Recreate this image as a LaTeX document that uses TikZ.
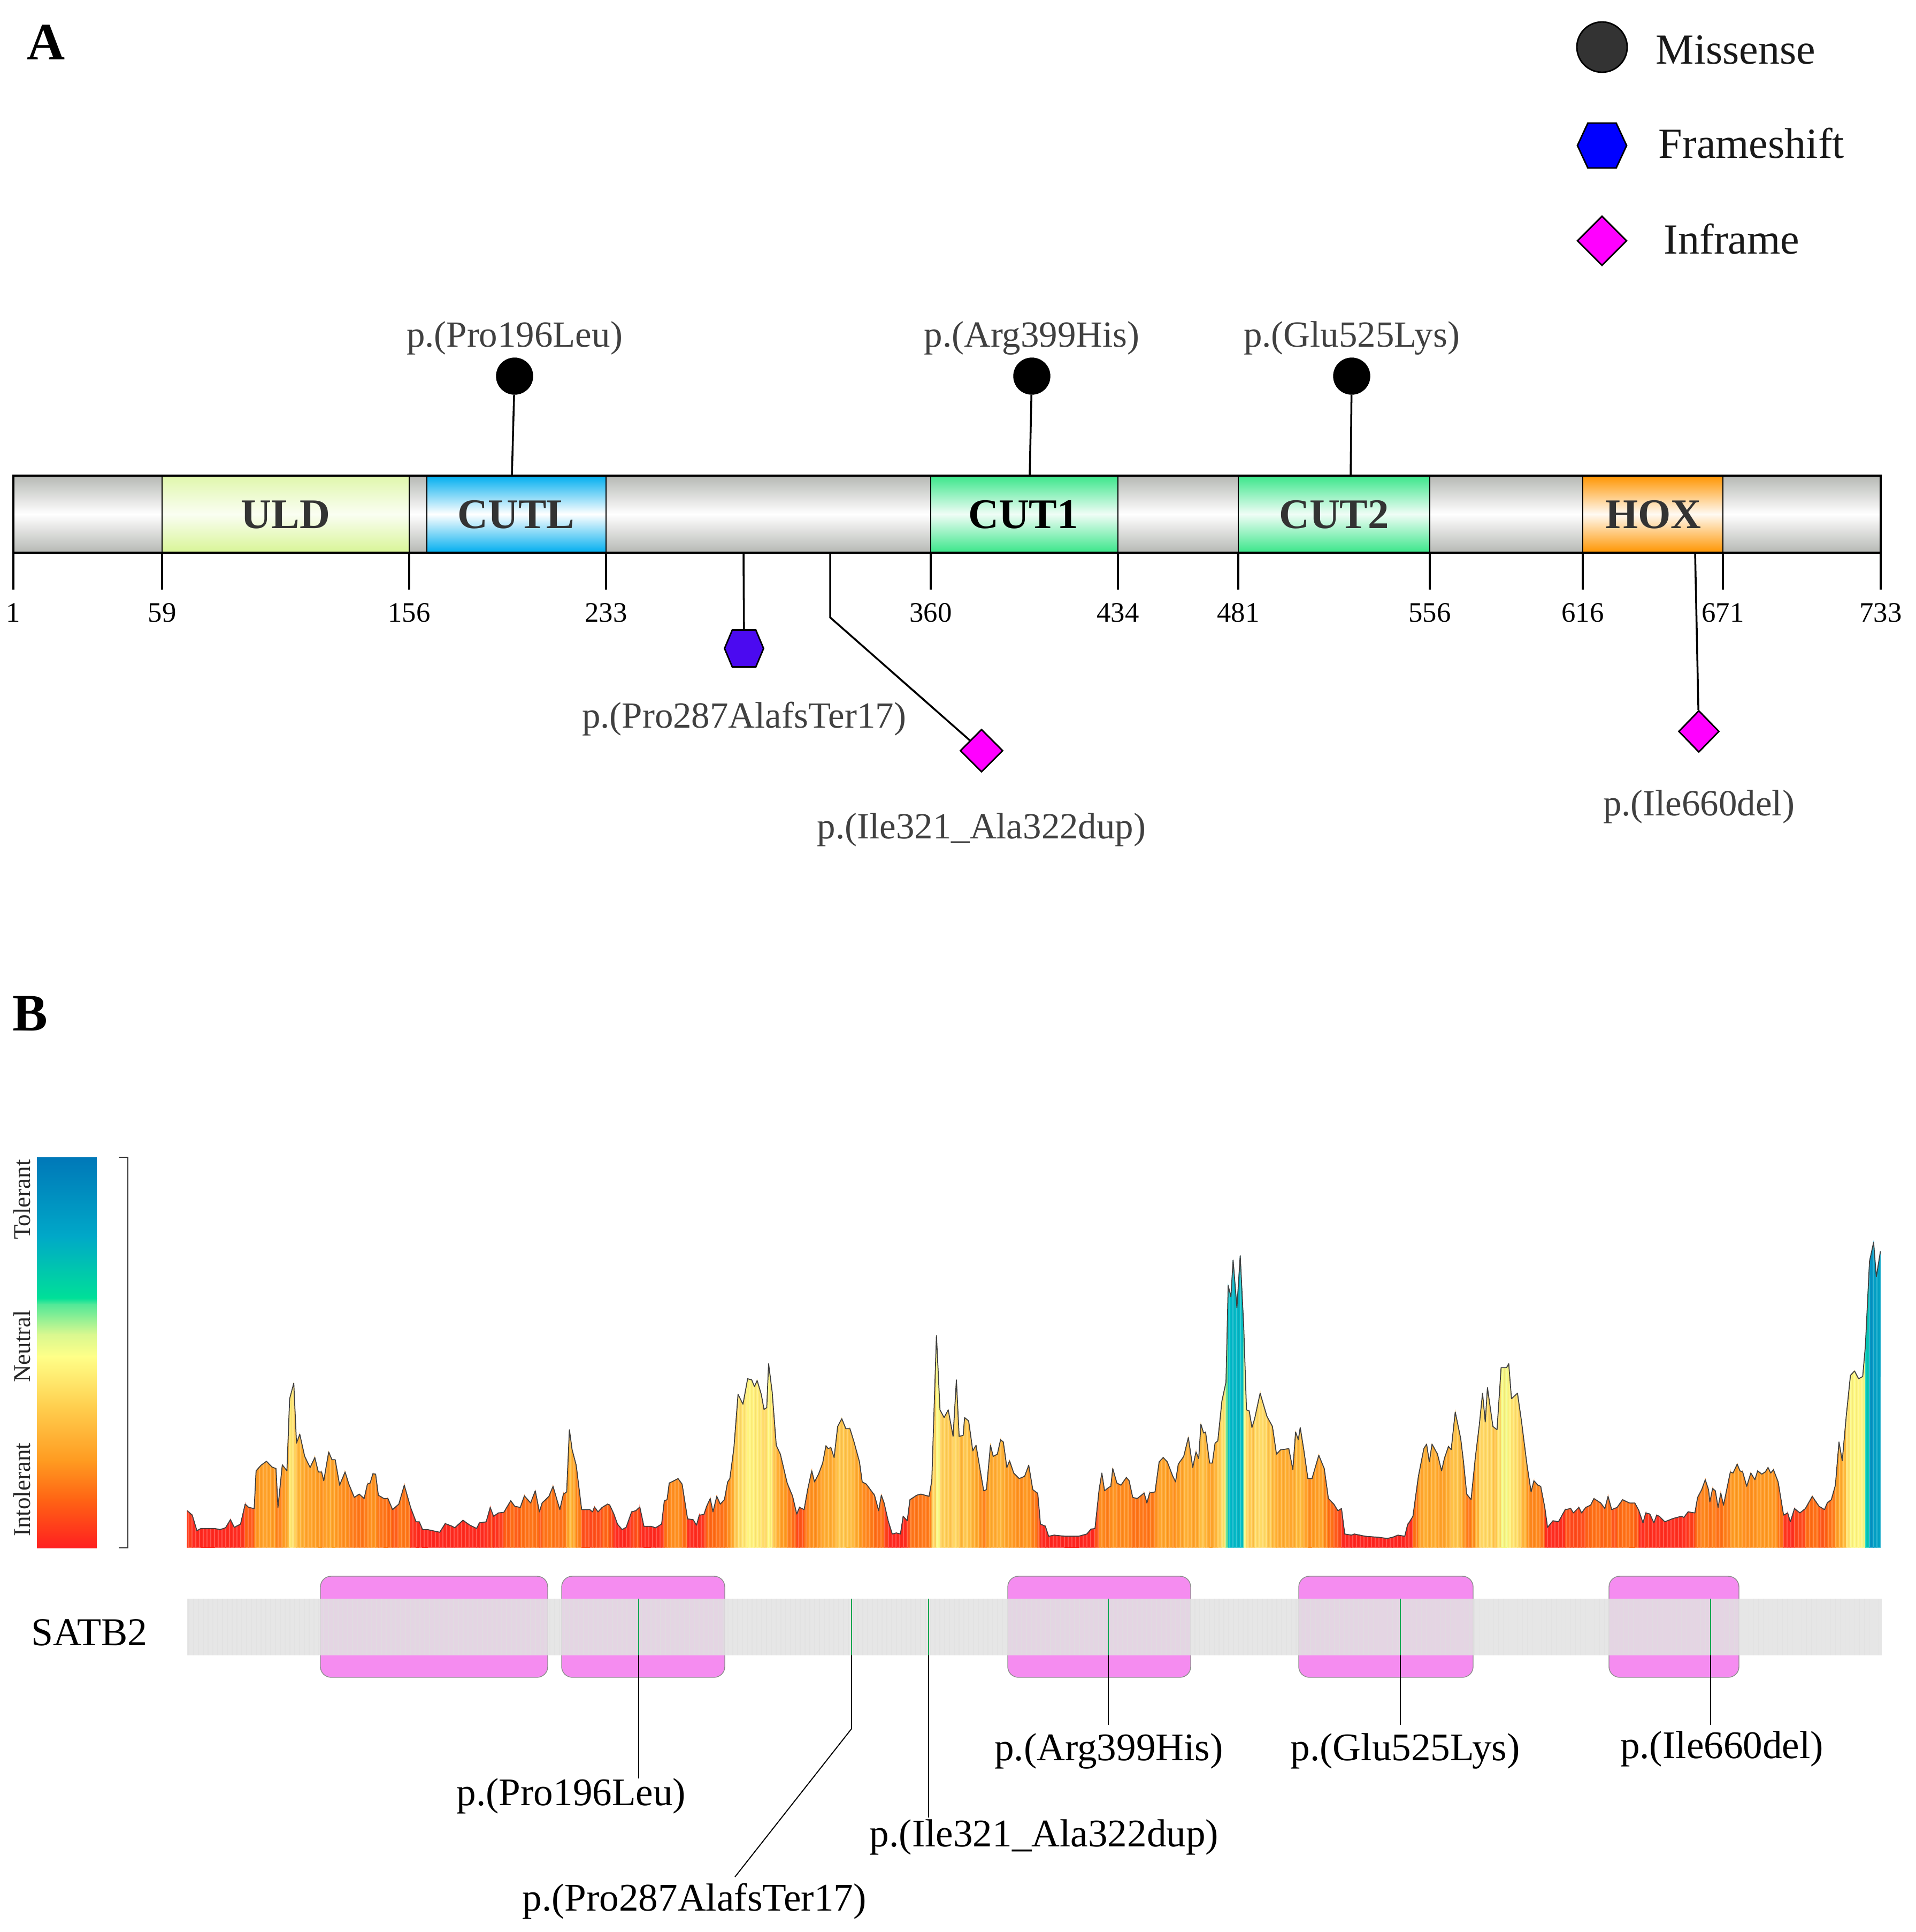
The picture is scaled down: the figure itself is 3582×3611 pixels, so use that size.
\documentclass[tikz,border=0pt]{standalone}
\usepackage{fontspec}
\setmainfont{Liberation Serif}
\usetikzlibrary{shapes.geometric}
\definecolor{labA}{HTML}{404040}
\definecolor{domtext}{HTML}{333333}
\definecolor{gbar}{HTML}{B6B8B4}
\definecolor{guld}{HTML}{D8F596}
\definecolor{gcutl}{HTML}{00AEEF}
\definecolor{gcut}{HTML}{3AE68A}
\definecolor{ghox}{HTML}{FF9500}
\definecolor{fsA}{HTML}{4B0AF0}
\definecolor{magA}{HTML}{FF00FF}
\definecolor{pinkbox}{HTML}{F58CF0}
\definecolor{satbar}{HTML}{E2E2E2}
\definecolor{mkgreen}{HTML}{00A651}
\definecolor{cb0}{HTML}{0078B8}\definecolor{cb1}{HTML}{00A8C8}\definecolor{cb2}{HTML}{00E098}
\definecolor{cb3}{HTML}{50E898}\definecolor{cb4}{HTML}{D8F890}\definecolor{cb5}{HTML}{FFFF88}
\definecolor{cb6}{HTML}{FFD050}\definecolor{cb7}{HTML}{FF9A20}\definecolor{cb8}{HTML}{FF6414}
\definecolor{cb9}{HTML}{FF2020}
\definecolor{s0}{HTML}{FF2020}\definecolor{s1}{HTML}{FF3020}\definecolor{s2}{HTML}{FF6C16}
\definecolor{s3}{HTML}{FF9A22}\definecolor{s4}{HTML}{FFBA3C}\definecolor{s5}{HTML}{FFDA66}
\definecolor{s6}{HTML}{FFF882}\definecolor{s7}{HTML}{E8F888}\definecolor{s8}{HTML}{80E890}
\definecolor{s9}{HTML}{00D8A8}\definecolor{s10}{HTML}{00C0C8}\definecolor{s11}{HTML}{008CC4}
\newcommand\mixseg[5]{\pgfmathsetmacro\pp{max(0,min(100,100*(#1-#2)/(#3-#2)))}\colorlet{hc}{#5!\pp!#4}}
\newcommand\hcol[1]{\pgfmathsetmacro\hh{#1}%
\ifdim\hh pt<60pt \mixseg{\hh}{0}{60}{s0}{s1}\else
\ifdim\hh pt<80pt \mixseg{\hh}{60}{80}{s1}{s2}\else
\ifdim\hh pt<140pt \mixseg{\hh}{80}{140}{s2}{s3}\else
\ifdim\hh pt<205pt \mixseg{\hh}{140}{205}{s3}{s4}\else
\ifdim\hh pt<265pt \mixseg{\hh}{205}{265}{s4}{s5}\else
\ifdim\hh pt<320pt \mixseg{\hh}{265}{320}{s5}{s6}\else
\ifdim\hh pt<360pt \mixseg{\hh}{320}{360}{s6}{s7}\else
\ifdim\hh pt<395pt \mixseg{\hh}{360}{395}{s7}{s8}\else
\ifdim\hh pt<420pt \mixseg{\hh}{395}{420}{s8}{s9}\else
\ifdim\hh pt<480pt \mixseg{\hh}{420}{480}{s9}{s10}\else
\mixseg{\hh}{480}{570}{s10}{s11}\fi\fi\fi\fi\fi\fi\fi\fi\fi\fi}
\def\prof{350.2/68.4, 359.4/60.1, 368.1/31.1, 375.7/35.2, 401.2/35.2, 411.4/33.2, 421.6/36.5, 430.8/51.8, 438.0/37.3, 449.7/43.5, 458.4/80.8, 465.0/74.6, 475.2/72.5, 478.8/143.0, 488.0/153.4, 498.2/160.8, 508.4/150.1, 516.0/147.2, 519.6/74.6, 527.8/154.2, 536.4/143.0, 541.5/277.7, 549.2/306.8, 554.3/194.8, 560.4/211.4, 569.6/170.0, 579.8/149.2, 588.5/167.9, 595.1/140.9, 601.2/140.9, 605.3/124.4, 614.5/178.3, 620.6/163.7, 626.7/163.7, 634.9/116.1, 645.1/140.9, 652.2/118.1, 662.4/93.3, 671.6/99.5, 680.8/91.2, 686.9/118.1, 692.0/120.2, 697.1/137.6, 702.2/136.8, 707.3/97.4, 717.6/91.2, 725.2/91.2, 733.9/70.5, 745.6/80.8, 755.8/116.1, 767.6/74.6, 777.8/47.7, 783.9/47.7, 790.0/33.2, 799.2/33.2, 822.1/28.2, 832.3/44.4, 845.1/39.4, 850.2/36.5, 865.5/50.6, 878.3/41.5, 891.0/35.2, 896.1/45.6, 908.9/47.7, 916.5/74.6, 922.7/58.0, 931.8/64.3, 942.0/65.5, 954.8/87.1, 962.4/76.7, 972.7/74.6, 980.3/96.2, 992.0/82.9, 1000.7/105.7, 1008.4/66.3, 1013.5/82.9, 1026.2/95.3, 1033.9/114.0, 1046.6/70.5, 1053.3/99.5, 1059.4/103.6, 1064.5/219.7, 1069.6/182.4, 1077.2/153.4, 1087.4/70.5, 1102.7/70.5, 1107.8/66.3, 1111.4/75.4, 1118.0/66.3, 1125.7/74.6, 1135.9/80.8, 1140/78.8, 1147.7/62.2, 1154.3/43.5, 1163.0/33.2, 1170.6/37.3, 1180.8/66.3, 1188.5/68.4, 1196.1/75.4, 1203.8/39.4, 1216.5/39.4, 1225.7/36.5, 1236.9/43.5, 1242.0/87.1, 1247.1/89.1, 1251.2/120.2, 1259.9/124.4, 1267.6/128.5, 1275.2/118.1, 1285.4/53.1, 1295.6/51.8, 1302.2/41.5, 1307.3/60.1, 1316.0/61.4, 1321.1/76.7, 1327.8/91.2, 1332.9/66.3, 1340.0/95.3, 1346.6/80.8, 1354.3/89.1, 1360.4/122.3, 1364.5/128.5, 1372.1/186.5, 1379.8/286.0, 1389.0/267.4, 1397.7/315.1, 1405.3/313.0, 1410.4/300.5, 1415.5/311.7, 1423.2/286.0, 1428.3/257.8, 1433.4/261.2, 1436.9/343.2, 1443.6/290.2, 1451.2/190.7, 1458.9/174.1, 1471.6/120.2, 1481.8/95.3, 1489.5/62.2, 1494.6/74.6, 1503.3/70.5, 1509.9/107.8, 1517.6/143.0, 1522.7/122.3, 1530.3/136.8, 1538.0/157.5, 1544.1/189.9, 1548.2/184.5, 1553.3/186.5, 1559.4/167.9, 1566.0/225.9, 1573.7/240.4, 1581.3/221.8, 1589.0/221.8, 1596.6/196.9, 1606.8/159.6, 1611.9/122.3, 1619.6/118.1, 1627.2/107.8, 1634.9/97.4, 1642.6/68.4, 1647.7/97.4, 1652.8/82.9, 1660.4/49.7, 1668.1/24.9, 1675.7/26.9, 1683.4/24.9, 1688.5/58.0, 1696.1/49.7, 1701.2/89.1, 1714.0/97.4, 1721.6/99.5, 1736.9/95.3, 1742.0/124.4, 1750.7/395.9, 1757.3/257.0, 1765.0/242.5, 1772.7/257.0, 1781.8/207.3, 1788.0/313.0, 1793.1/207.3, 1800.7/209.3, 1803.3/242.5, 1810.9/236.3, 1818.6/180.3, 1824.7/190.7, 1831.3/151.3, 1839.0/105.7, 1844.1/107.8, 1851.7/190.7, 1856.8/170.0, 1864.5/174.1, 1870.6/201.1, 1875.7/196.9, 1882.3/149.2, 1887.4/161.7, 1895.1/138.9, 1905.3/128.5, 1915.5/132.7, 1923.2/153.4, 1930.8/107.8, 1940/101.0, 1945.1/43.5, 1954.3/39.4, 1960.4/20.7, 1970.6/22.8, 1991.0/20.7, 2016.5/20.7, 2031.8/24.9, 2039.5/34.0, 2047.1/35.2, 2054.8/107.8, 2059.9/138.9, 2065.0/105.7, 2072.7/111.9, 2076.7/114.0, 2080.3/147.2, 2088.0/120.2, 2095.6/116.1, 2105.8/130.6, 2110.9/124.4, 2117.6/93.3, 2126.2/91.2, 2139.0/101.6, 2144.1/82.9, 2149.2/101.6, 2159.4/103.6, 2167.0/159.6, 2174.7/167.9, 2182.3/159.6, 2192.6/132.7, 2197.7/122.3, 2202.8/155.5, 2213.0/170.0, 2221.6/205.2, 2229.8/149.2, 2235.9/178.3, 2241.0/165.8, 2245.1/230.1, 2250.2/213.5, 2253.8/215.6, 2261.4/157.5, 2266.5/157.5, 2271.6/194.8, 2276.7/199.0, 2284.4/273.6, 2292.0/308.8, 2296.1/489.2, 2301.2/468.5, 2305.3/536.8, 2312.4/447.7, 2318.6/545.1, 2325.2/410.4, 2330.3/257.0, 2335.4/254.9, 2340.5/223.9, 2345.6/240.4, 2355.8/288.1, 2368.6/244.6, 2378.8/225.9, 2386.4/174.1, 2394.1/182.4, 2401.7/183.2, 2409.4/184.5, 2417.0/145.1, 2422.1/215.6, 2427.2/201.1, 2430.8/223.9, 2437.4/182.4, 2445.1/128.5, 2452.8/128.5, 2465.5/172.0, 2475.7/147.2, 2483.4/91.2, 2493.6/80.8, 2501.2/68.4, 2507.9/72.5, 2514.0/24.9, 2526.7/22.8, 2531.8/24.9, 2552.2/20.7, 2577.8/18.7, 2593.1/16.6, 2603.3/18.7, 2613.5/22.8, 2626.2/20.7, 2631.3/41.5, 2641.5/58.0, 2651.7/132.7, 2661.9/184.5, 2667.0/192.8, 2672.1/159.6, 2677.2/192.8, 2687.4/174.1, 2695.1/143.0, 2700.2/165.8, 2707.9/188.6, 2713.0/182.4, 2720.6/252.9, 2730.8/203.1, 2736.0/160.0, 2742.0/99.5, 2750.2/89.1, 2757.9/165.8, 2765.5/228.0, 2771.6/288.1, 2776.7/234.2, 2780.8/298.5, 2791.0/225.9, 2798.7/219.7, 2806.3/335.8, 2816.5/335.8, 2820.6/343.2, 2825.7/277.7, 2836.9/288.1, 2844.6/234.2, 2854.8/153.4, 2862.4/103.6, 2867.6/124.4, 2875.2/116.1, 2880.3/114.0, 2888.0/74.6, 2893.1/37.3, 2903.3/49.7, 2913.5/47.7, 2926.2/70.5, 2936.4/72.5, 2941.5/64.3, 2951.7/74.6, 2956.8/64.3, 2964.5/74.6, 2973.7/78.8, 2979.8/91.2, 2992.6/82.9, 3000.2/72.5, 3006.3/95.3, 3013.0/70.5, 3023.2/74.6, 3033.4/89.1, 3046.1/82.9, 3056.3/82.9, 3064.0/68.4, 3071.6/45.6, 3076.7/64.3, 3084.4/62.2, 3092.0/45.6, 3097.1/60.1, 3102.2/58.0, 3112.4/47.7, 3127.8/53.9, 3143.1/58.0, 3148.2/56.0, 3155.8/66.3, 3168.6/64.3, 3173.7/93.3, 3181.3/107.8, 3188.0/126.4, 3194.1/107.8, 3196.6/85.0, 3201.7/109.9, 3206.8/105.7, 3211.9/74.6, 3217.0/101.6, 3222.1/78.8, 3234.9/140.9, 3240.0/138.9, 3247.7/155.5, 3252.8/143.0, 3257.9/140.9, 3265.5/114.0, 3273.2/138.9, 3280.8/126.4, 3285.9/143.0, 3293.6/136.8, 3300.2/140.9, 3305.3/149.2, 3310.4/138.9, 3315.5/145.1, 3324.2/122.3, 3334.4/60.1, 3342.0/64.3, 3347.1/47.7, 3354.8/72.5, 3365.0/64.3, 3375.2/72.5, 3388.0/95.3, 3400.7/76.7, 3410.9/70.5, 3416.0/82.9, 3423.7/89.1, 3431.3/116.1, 3438.0/196.9, 3444.1/161.7, 3451.7/246.7, 3459.4/321.3, 3467.0/329.6, 3474.7/315.1, 3482.3/319.2, 3487.4/377.2, 3495.1/534.8, 3502.7/570.0, 3507.8/505.7, 3515.5/553.4}
\tikzset{
 stemline/.style={line width=1pt, black},
 lolli/.style={circle, fill=black, draw=black, inner sep=0pt, minimum size=0.68cm},
 inframe/.style={diamond, fill=magA, draw=black, line width=0.8pt, inner sep=0pt, minimum width=0.8cm, minimum height=0.8cm},
 mutA/.style={font=\fontsize{19.6}{22}\selectfont, text=labA, anchor=base, inner sep=0pt},
 mutB/.style={font=\fontsize{20.8}{24}\selectfont, text=black, anchor=base, inner sep=0pt},
 tickmark/.style={line width=0.9pt, black},
 ticklab/.style={font=\fontsize{15}{18}\selectfont, anchor=base, inner sep=0pt},
 domlab/.style={font=\fontsize{22.4}{26}\selectfont\bfseries, anchor=base, inner sep=0pt, text=domtext},
 legtext/.style={font=\fontsize{22.8}{26}\selectfont, anchor=base west, inner sep=0pt, text=black!90},
 barseg/.style={top color=#1, bottom color=#1, middle color=white},
 pbox/.style={fill=pinkbox, draw=black!45, line width=0.4pt, rounded corners=0.2cm},
 greenmark/.style={mkgreen, line width=0.7pt},
 lead/.style={black, line width=0.55pt},
 cblab/.style={font=\fontsize{12.8}{15}\selectfont, rotate=90, anchor=base, inner sep=0pt, text=black!85},
 panel/.style={font=\fontsize{28}{32}\selectfont\bfseries, anchor=base west, inner sep=0pt}
}
\begin{document}
\begin{tikzpicture}[x=0.01cm, y=-0.01cm]
\useasboundingbox[fill=white] (0,0) rectangle (3582,3611);

% ---------------- Panel A ----------------
\node[panel] (pA) at (50,111) {A};

% protein bar
\shade[barseg=gbar] (25,889) rectangle (303,1033);
\shade[top color=guld!80!white, bottom color=guld, middle color=guld!12!white] (303,889) rectangle (765,1033);
\shade[barseg=gbar] (765,889) rectangle (798,1033);
\shade[barseg=gcutl] (798,889) rectangle (1133,1033);
\shade[barseg=gbar] (1133,889) rectangle (1740,1033);
\shade[top color=gcut, bottom color=gcut, middle color=gcut!8!white] (1740,889) rectangle (2090,1033);
\shade[barseg=gbar] (2090,889) rectangle (2315,1033);
\shade[top color=gcut, bottom color=gcut, middle color=gcut!8!white] (2315,889) rectangle (2673,1033);
\shade[barseg=gbar] (2673,889) rectangle (2959,1033);
\shade[top color=ghox, bottom color=ghox, middle color=ghox!5!white] (2959,889) rectangle (3221,1033);
\shade[barseg=gbar] (3221,889) rectangle (3516,1033);
\foreach \bx in {303,765,798,1133,1740,2090,2315,2673,2959,3221}
  \draw[line width=0.6pt] (\bx,889) -- (\bx,1033);
\draw[line width=1pt] (25,889) rectangle (3516,1033);

% domain labels
\node[domlab] (uld) at (534,987) {ULD};
\node[domlab] (cutl) at (965,987) {CUTL};
\node[domlab, text=black] (cut1) at (1913,987) {CUT1};
\node[domlab] (cut2) at (2494,987) {CUT2};
\node[domlab] (hox) at (3091,987) {HOX};

% ticks and position labels
\foreach \tx/\tl in {25/1, 303/59, 765/156, 1133/233, 1740/360, 2090/434, 2315/481, 2673/556, 2959/616, 3221/671, 3516/733}{
  \draw[tickmark] (\tx,1033) -- (\tx,1102);
  \node[ticklab] (t\tl) at (\tx,1162) {\tl};
}

% missense lollipops
\coordinate (m1b) at (957,889);
\coordinate (m2b) at (1925,889);
\coordinate (m3b) at (2525,889);
\node[lolli] (m1) at (962,703) {};
\node[lolli] (m2) at (1929,703) {};
\node[lolli] (m3) at (2527,703) {};
\draw[stemline] (m1) -- (m1b);
\draw[stemline] (m2) -- (m2b);
\draw[stemline] (m3) -- (m3b);
\node[mutA] (l1) at (962,648) {p.(Pro196Leu)};
\node[mutA] (l2) at (1929,648) {p.(Arg399His)};
\node[mutA] (l3) at (2527,648) {p.(Glu525Lys)};

% frameshift
\coordinate (fsb) at (1390,1033);
\coordinate (fs) at (1391,1212);
\draw[stemline] (fsb) -- (fs);
\draw[fill=fsA, line width=0.8pt] ([shift={(-36.5,0)}]fs) -- ([shift={(-22,-34.5)}]fs) -- ([shift={(22,-34.5)}]fs) -- ([shift={(36.5,0)}]fs) -- ([shift={(22,34.5)}]fs) -- ([shift={(-22,34.5)}]fs) -- cycle;
\node[mutA] (l4) at (1391,1360) {p.(Pro287AlafsTer17)};

% inframe 1
\coordinate (ifb) at (1552,1033);
\coordinate (ifk) at (1552,1154);
\node[inframe] (if1) at (1835,1403) {};
\draw[stemline] (ifb) -- (ifk) -- (if1);
\node[mutA] (l5) at (1835,1567) {p.(Ile321\_Ala322dup)};

% inframe 2
\coordinate (idb) at (3169,1033);
\node[inframe, minimum width=0.76cm, minimum height=0.78cm] (if2) at (3176,1367) {};
\draw[stemline] (idb) -- (if2);
\node[mutA] (l6) at (3176,1524) {p.(Ile660del)};

% legend
\node[circle, fill=black!80, draw=black, line width=0.8pt, minimum size=0.94cm, inner sep=0pt] (lgm) at (2995,88) {};
\coordinate (lgf) at (2995,272);
\draw[fill=blue, line width=0.8pt] ([shift={(-46,0)}]lgf) -- ([shift={(-26.5,-42)}]lgf) -- ([shift={(26.5,-42)}]lgf) -- ([shift={(46,0)}]lgf) -- ([shift={(26.5,42)}]lgf) -- ([shift={(-26.5,42)}]lgf) -- cycle;
\node[inframe, minimum width=0.93cm, minimum height=0.93cm] (lgi) at (2995,450) {};
\node[legtext] (lt1) at (3095,119) {Missense};
\node[legtext] (lt2) at (3100,295) {Frameshift};
\node[legtext] (lt3) at (3110,474) {Inframe};

% ---------------- Panel B ----------------
\node[panel] (pB) at (23,1926) {B};

% colour bar
\shade[top color=cb0, bottom color=cb1] (69,2163) rectangle (181,2311);
\shade[top color=cb1, bottom color=cb2] (69,2310) rectangle (181,2427);
\shade[top color=cb2, bottom color=cb3] (69,2426) rectangle (181,2438);
\shade[top color=cb3, bottom color=cb4] (69,2437) rectangle (181,2494);
\shade[top color=cb4, bottom color=cb5] (69,2493) rectangle (181,2536);
\shade[top color=cb5, bottom color=cb6] (69,2535) rectangle (181,2627);
\shade[top color=cb6, bottom color=cb7] (69,2626) rectangle (181,2732);
\shade[top color=cb7, bottom color=cb8] (69,2731) rectangle (181,2803);
\shade[top color=cb8, bottom color=cb9] (69,2802) rectangle (181,2893);
\node[cblab] (cbt) at (57,2242) {Tolerant};
\node[cblab] (cbn) at (57,2516) {Neutral};
\node[cblab] (cbi) at (57,2784) {Intolerant};
\draw[black!80, line width=0.7pt] (222,2163) -- (239,2163) -- (239,2893) -- (222,2893);

% tolerance profile
\foreach \x/\h [remember=\x as \xo (initially 350), remember=\h as \ho (initially 0)] in \prof {
  \hcol{(\h+\ho)/2}
  \fill[hc, draw=hc, line width=0.3pt] (\xo,2892) -- (\xo,2892-\ho) -- (\x,2892-\h) -- (\x,2892) -- cycle;
}
\begin{scope}
  \clip (350,2892) \foreach \x/\h in \prof { -- (\x,2892-\h) } -- (3516,2892) -- cycle;
  \foreach \i in {0,...,452} \draw[white, opacity=0.22, line width=0.5pt] (352+7*\i,2300) -- (352+7*\i,2892);
  \foreach \i in {0,...,452} \draw[red!60!black, opacity=0.07, line width=0.5pt] (355.5+7*\i,2300) -- (355.5+7*\i,2892);
\end{scope}
\draw[black!75, line width=0.5pt, line join=round] (350.2,2823.6) \foreach \x/\h in \prof { -- (\x,2892-\h) };

% SATB2 track
\node[font=\fontsize{21}{24}\selectfont, anchor=base, inner sep=0pt] (satb) at (167,3075) {SATB2};
\draw[pbox] (599,2946) rectangle (1024,3135);
\draw[pbox] (1050,2946) rectangle (1355,3135);
\draw[pbox] (1884,2946) rectangle (2226,3135);
\draw[pbox] (2428,2946) rectangle (2754,3135);
\draw[pbox] (3008,2946) rectangle (3251,3135);
\fill[satbar, opacity=0.86] (350,2988) rectangle (3518,3094);
\foreach \i in {0,...,351} \draw[black!12, opacity=0.5, line width=0.3pt] (353+9*\i,2988) -- (353+9*\i,3094);

% markers and leads
\foreach \n/\gx in {1/1194, 2/1592, 3/1736, 4/2072, 5/2618, 6/3198}{
  \coordinate (g\n t) at (\gx,2988);
  \coordinate (g\n b) at (\gx,3094);
  \draw[greenmark] (g\n t) -- (g\n b);
}
\node[mutB] (b1) at (1068,3374) {p.(Pro196Leu)};
\node[mutB] (b2) at (1298,3571) {p.(Pro287AlafsTer17)};
\node[mutB] (b3) at (1952,3451) {p.(Ile321\_Ala322dup)};
\node[mutB] (b4) at (2073,3290) {p.(Arg399His)};
\node[mutB] (b5) at (2627,3290) {p.(Glu525Lys)};
\node[mutB] (b6) at (3219,3286) {p.(Ile660del)};
\coordinate (e1) at (1194,3324);
\coordinate (k2) at (1592,3231);
\coordinate (e2) at (1374,3508);
\coordinate (e3) at (1736,3397);
\coordinate (e4) at (2072,3224);
\coordinate (e5) at (2618,3224);
\coordinate (e6) at (3198,3224);
\draw[lead] (g1b) -- (e1);
\draw[lead] (g2b) -- (k2) -- (e2);
\draw[lead] (g3b) -- (e3);
\draw[lead] (g4b) -- (e4);
\draw[lead] (g5b) -- (e5);
\draw[lead] (g6b) -- (e6);
\end{tikzpicture}
\end{document}
